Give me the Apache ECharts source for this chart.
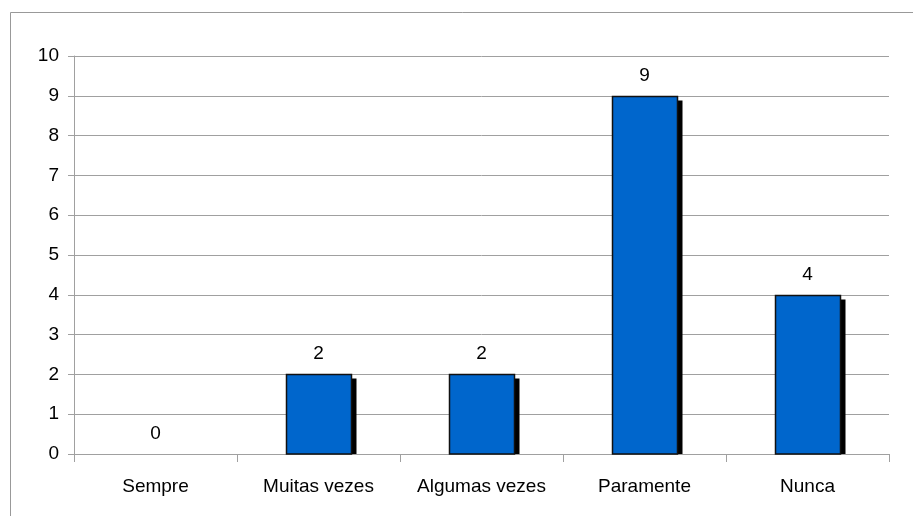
<!DOCTYPE html>
<html>
<head>
<meta charset="utf-8">
<script src="https://cdn.jsdelivr.net/npm/echarts@6/dist/echarts.min.js"></script>
<style>html,body{margin:0;padding:0;background:#fff}#c{width:913px;height:516px}</style>
</head>
<body>
<div id="c"></div>
<script>
const categories = ['Sempre', 'Muitas vezes', 'Algumas vezes', 'Paramente', 'Nunca'];
const values = [0, 2, 2, 9, 4];
const yTicks = { min: 0, max: 10, interval: 1 };

const chart = echarts.init(document.getElementById('c'), null, { renderer: 'canvas' });
const font = '"Liberation Sans", Arial, sans-serif';
const fs = 19;
chart.setOption({
  animation: false,
  backgroundColor: '#ffffff',
  graphic: [{
    type: 'rect', silent: true, z: -1,
    shape: { x: 10.5, y: 12.5, width: 1000, height: 1000 },
    style: { fill: 'none', stroke: '#999999', lineWidth: 1 }
  }],
  grid: { left: 74, right: 24, top: 56, bottom: 62 },
  xAxis: {
    type: 'category',
    data: categories,
    boundaryGap: true,
    axisLine: { show: true, lineStyle: { color: '#a0a0a0', width: 1 } },
    axisTick: { show: true, length: 8, alignWithLabel: false, lineStyle: { color: '#a0a0a0' } },
    axisLabel: { color: '#000', fontFamily: font, fontSize: fs, margin: 23, interval: 0 }
  },
  yAxis: {
    type: 'value',
    min: yTicks.min, max: yTicks.max, interval: yTicks.interval,
    axisLine: { show: true, lineStyle: { color: '#a0a0a0', width: 1 } },
    axisTick: { show: true, length: 6, lineStyle: { color: '#a0a0a0' } },
    axisLabel: { color: '#000', fontFamily: font, fontSize: fs, margin: 15 },
    splitLine: { show: true, lineStyle: { color: '#a0a0a0', width: 1 } }
  },
  series: [{
    type: 'custom',
    data: values.map((v, i) => [i, v]),
    encode: { x: 0, y: 1 },
    z: 3,
    renderItem: function (params, api) {
      const v = api.value(1);
      if (!v) return null;
      const base = api.coord([api.value(0), 0]);
      const top = api.coord([api.value(0), v]);
      const w = Math.round(api.size([1, 0])[0] * 0.4);
      const x = Math.round(base[0] - w / 2) + 0.5;
      const yTop = Math.round(top[1]) + 0.5;
      const yBase = Math.round(base[1]);
      return {
        type: 'group',
        children: [
          { type: 'rect', shape: { x: x + 5, y: yTop + 4, width: w, height: yBase - yTop - 4 }, style: { fill: '#000' } },
          { type: 'rect', shape: { x: x, y: yTop, width: w, height: yBase - yTop }, style: { fill: '#0066cc', stroke: '#111', lineWidth: 1.5 } }
        ]
      };
    }
  }, {
    type: 'bar',
    data: values,
    barWidth: '40%',
    z: 4,
    itemStyle: { color: 'rgba(0,0,0,0)' },
    label: {
      show: true, position: 'top', distance: 11,
      color: '#000', fontFamily: font, fontSize: fs
    }
  }]
});
</script>
</body>
</html>
